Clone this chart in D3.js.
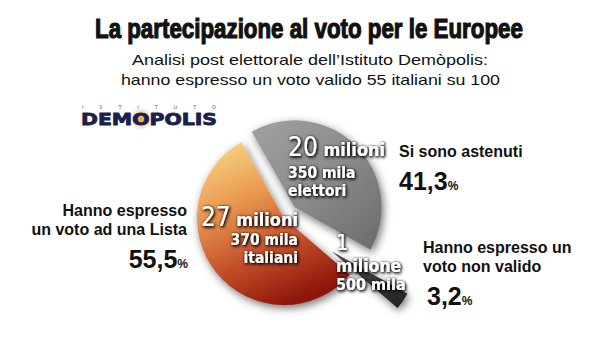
<!DOCTYPE html>
<html><head><meta charset="utf-8">
<script src="https://cdn.jsdelivr.net/npm/d3@7"></script>
<style>
html,body{margin:0;padding:0;background:#fff;}
svg{display:block;}
</style></head>
<body>
<svg id="chart" width="600" height="341"></svg>
<script>
// ---- data ----
const categories = ["Si sono astenuti", "Hanno espresso un voto non valido", "Hanno espresso un voto ad una Lista"];
const percentages = [41.3, 3.2, 55.5];
const voterLines = [["20 milioni", "350 mila", "elettori"], ["1", "milione", "500 mila"], ["27 milioni", "370 mila", "italiani"]];
const titleText = "La partecipazione al voto per le Europee";
const subtitleLines = ["Analisi post elettorale dell\u2019Istituto Dem\u00f2polis:", "hanno espresso un voto valido 55 italiani su 100"];

const svg = d3.select("#chart");
const itFmt = d3.formatLocale({decimal: ",", thousands: ".", grouping: [3], currency: ["\u20ac", ""]}).format(".1f");

const cx = 284, cy = 218, R = 87;

const defs = svg.append("defs");
const sh = defs.append("filter").attr("id", "shadow").attr("x", "-30%").attr("y", "-30%").attr("width", "160%").attr("height", "160%");
sh.append("feDropShadow").attr("dx", 2).attr("dy", 3).attr("stdDeviation", 4).attr("flood-color", "#000").attr("flood-opacity", 0.55);
const ts = defs.append("filter").attr("id", "tshadow").attr("x", "-20%").attr("y", "-30%").attr("width", "140%").attr("height", "160%");
ts.append("feDropShadow").attr("dx", 1).attr("dy", 1.2).attr("stdDeviation", 1.4).attr("flood-color", "#000").attr("flood-opacity", 1);
ts.append("feDropShadow").attr("dx", 0).attr("dy", 0).attr("stdDeviation", 1).attr("flood-color", "#000").attr("flood-opacity", 0.6);

// gradient coordinates are in the pie group's space (origin at pie centre)
const gOr = defs.append("linearGradient").attr("id", "gOrange").attr("gradientUnits", "userSpaceOnUse")
  .attr("x1", -60).attr("y1", -70).attr("x2", 10).attr("y2", 88);
[[0, "#f6cf7e"], [0.3, "#ea9a52"], [0.65, "#c4502a"], [1, "#8a1208"]].forEach(s => gOr.append("stop").attr("offset", s[0]).attr("stop-color", s[1]));
const gGr = defs.append("linearGradient").attr("id", "gGray").attr("gradientUnits", "userSpaceOnUse")
  .attr("x1", -30).attr("y1", -95).attr("x2", 95).attr("y2", 35);
[[0, "#a0a0a0"], [0.5, "#8b8b8b"], [1, "#6a6a6a"]].forEach(s => gGr.append("stop").attr("offset", s[0]).attr("stop-color", s[1]));
const gDk = defs.append("linearGradient").attr("id", "gDark").attr("x1", 0).attr("y1", 0).attr("x2", 0).attr("y2", 1);
[[0, "#4a4a4a"], [1, "#222"]].forEach(s => gDk.append("stop").attr("offset", s[0]).attr("stop-color", s[1]));
const gLogo = defs.append("radialGradient").attr("id", "gLogo");
[[0, "#f0a030", 1], [0.55, "#f2b060", 0.6], [1, "#f8d8b0", 0]].forEach(s => gLogo.append("stop").attr("offset", s[0]).attr("stop-color", s[1]).attr("stop-opacity", s[2]));

// ---- titles ----
const title = svg.append("text").attr("x", 0).attr("y", 0)
  .attr("font-family", "Liberation Sans Narrow, Arial Narrow, sans-serif").attr("font-weight", "bold").attr("font-size", 28)
  .attr("fill", "#111").attr("stroke", "#111").attr("stroke-width", 1.2).text(titleText);
const tw = title.node().getComputedTextLength();
title.attr("transform", `translate(95,38) scale(${428 / tw},1)`);

svg.append("text").attr("x", 132).attr("y", 65).attr("textLength", 356).attr("lengthAdjust", "spacingAndGlyphs")
  .attr("font-family", "Liberation Sans, Arial, sans-serif").attr("font-size", 15).attr("fill", "#111").text(subtitleLines[0]);
svg.append("text").attr("x", 121).attr("y", 85).attr("textLength", 379).attr("lengthAdjust", "spacingAndGlyphs")
  .attr("font-family", "Liberation Sans, Arial, sans-serif").attr("font-size", 15).attr("fill", "#111").text(subtitleLines[1]);

// ---- logo ----
svg.append("circle").attr("cx", 141).attr("cy", 119).attr("r", 12).attr("fill", "url(#gLogo)");
svg.append("text").attr("x", 82).attr("y", 109).attr("textLength", 134).attr("lengthAdjust", "spacing")
  .attr("font-family", "DejaVu Sans, sans-serif").attr("font-size", 5).attr("fill", "#555").text("ISTITUTO");
svg.append("text").attr("x", 81).attr("y", 125).attr("textLength", 136).attr("lengthAdjust", "spacingAndGlyphs")
  .attr("font-family", "DejaVu Sans, sans-serif").attr("font-weight", "bold").attr("font-size", 15.5)
  .attr("fill", "#1b1f4d").attr("stroke", "#1b1f4d").attr("stroke-width", 0.8).text("DEMOPOLIS");

// ---- pie ----
const fills = ["url(#gGray)", "url(#gDark)", "url(#gOrange)"];
const explode = [15, 58, 0];
const pie = d3.pie().sort(null).value(d => d).startAngle(-29.5 * Math.PI / 180).endAngle((360 - 29.5) * Math.PI / 180);
const arcs = pie(percentages);
const arcGen = d3.arc().innerRadius(0).outerRadius(R);
const pg = svg.append("g").attr("transform", `translate(${cx},${cy})`);
[2, 0, 1].forEach(i => {
  const a = arcs[i];
  const mid = (a.startAngle + a.endAngle) / 2;
  const ox = Math.sin(mid) * explode[i], oy = -Math.cos(mid) * explode[i];
  pg.append("path").attr("d", arcGen(a)).attr("transform", `translate(${ox},${oy})`)
    .attr("fill", fills[i]).attr("filter", "url(#shadow)");
});

// ---- in-slice labels ----
const inFont = "DejaVu Sans Condensed, DejaVu Sans, sans-serif";
function inLabel(lines, x, ys, anchor, bigSize) {
  const g = svg.append("g").attr("filter", "url(#tshadow)").attr("font-family", inFont).attr("font-weight", "bold")
    .attr("fill", "#fff").attr("text-anchor", anchor);
  lines.forEach((ln, k) => {
    const t = g.append("text").attr("x", x).attr("y", ys[k]);
    const parts = ln.split(" ");
    if (k === 0) {
      t.append("tspan").attr("font-size", bigSize).attr("font-weight", "normal").text(parts[0]);
      if (parts.length > 1) t.append("tspan").attr("font-size", 18).text(" " + parts.slice(1).join(" "));
    } else {
      t.attr("font-size", 15.5).text(ln);
    }
  });
}
inLabel(voterLines[0], 288, [156, 178, 196], "start", 26);
inLabel(voterLines[2], 298, [226, 245, 263], "end", 26);
(function () {
  const g = svg.append("g").attr("filter", "url(#tshadow)").attr("font-family", inFont).attr("font-weight", "bold").attr("fill", "#fff");
  g.append("text").attr("x", 336).attr("y", 250).attr("font-size", 22).attr("font-weight", "normal").text(voterLines[1][0]);
  g.append("text").attr("x", 336).attr("y", 272).attr("font-size", 17.5).text(voterLines[1][1]);
  g.append("text").attr("x", 336).attr("y", 290).attr("font-size", 16).text(voterLines[1][2]);
})();

// ---- outside labels ----
const lf = "Liberation Sans, Arial, sans-serif";
function outLabel(lines, x, ys, anchor, pct, pctY) {
  const g = svg.append("g").attr("font-family", lf).attr("font-weight", "bold").attr("fill", "#111").attr("text-anchor", anchor);
  lines.forEach((ln, k) => g.append("text").attr("x", x).attr("y", ys[k]).attr("font-size", 16).text(ln));
  const t = g.append("text").attr("x", pct.x).attr("y", pctY);
  t.append("tspan").attr("font-size", 25).text(itFmt(pct.v));
  t.append("tspan").attr("font-size", 12).text("%");
}
outLabel(["Hanno espresso", "un voto ad una Lista"], 187, [216, 235], "end", {x: 188, v: percentages[2]}, 268);
outLabel([categories[0]], 399, [157], "start", {x: 399, v: percentages[0]}, 190);
outLabel(["Hanno espresso un", "voto non valido"], 423, [253, 272], "start", {x: 427, v: percentages[1]}, 305);
</script>
</body></html>
